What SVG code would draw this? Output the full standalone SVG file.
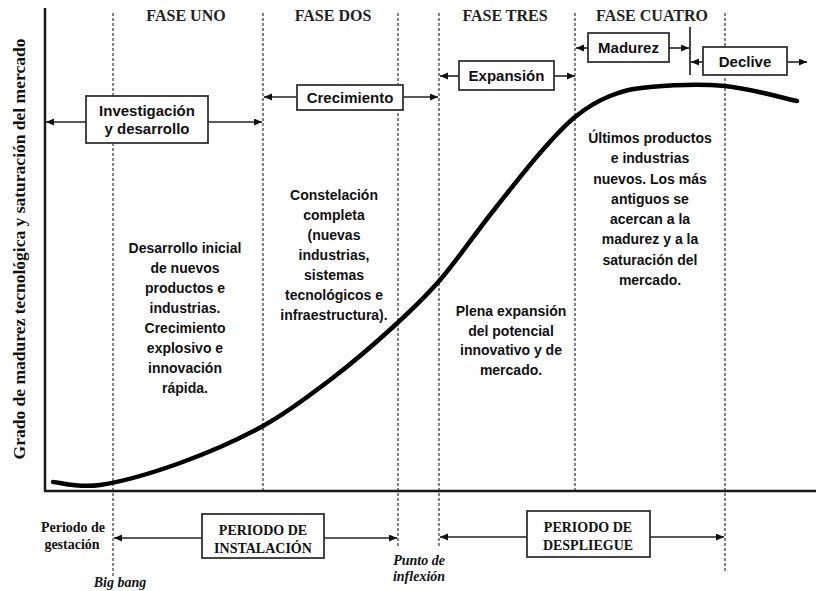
<svg xmlns="http://www.w3.org/2000/svg" width="816" height="591" viewBox="0 0 816 591">
<style>
.bg{fill:#ffffff}
.axis{stroke:#1a1a1a;stroke-width:2.5;fill:none}
.dash{stroke:#333333;stroke-width:1.2;stroke-dasharray:3 2;fill:none}
.curve{stroke:#000000;stroke-width:4.5;fill:none;stroke-linecap:round;stroke-linejoin:round}
.box{fill:#ffffff;stroke:#333333;stroke-width:1.8}
.conn{stroke:#222222;stroke-width:1.6;fill:none;marker-end:url(#ah)}
.sep{stroke:#333333;stroke-width:1.8}
.lbl{font-family:"Liberation Sans",Arial,sans-serif;font-weight:bold;font-size:15px;fill:#111;text-anchor:middle}
.body{font-family:"Liberation Sans",Arial,sans-serif;font-weight:bold;font-size:14px;fill:#111;text-anchor:middle}
.phase{font-family:"Liberation Serif","Times New Roman",serif;font-weight:bold;font-size:16px;fill:#222;text-anchor:middle}
.ser{font-family:"Liberation Serif","Times New Roman",serif;font-weight:bold;font-size:14px;fill:#111;text-anchor:middle}
.ital{font-family:"Liberation Serif","Times New Roman",serif;font-weight:bold;font-style:italic;font-size:14px;fill:#111;text-anchor:middle}
.ylab{font-family:"Liberation Serif","Times New Roman",serif;font-weight:bold;font-size:17.5px;fill:#111;text-anchor:middle}
</style>
<defs>
<marker id="ah" markerUnits="userSpaceOnUse" markerWidth="9" markerHeight="8" refX="8" refY="3.5" orient="auto">
<path d="M0,0 L8,3.5 L0,7 z" fill="#111"/>
</marker>
</defs>
<rect class="bg" x="0" y="0" width="816" height="591"/>

<g id="grid">
<line class="dash" x1="113" y1="13" x2="113" y2="578"/>
<line class="dash" x1="263" y1="13" x2="263" y2="491"/>
<line class="dash" x1="398" y1="13" x2="398" y2="547"/>
<line class="dash" x1="439" y1="13" x2="439" y2="547"/>
<line class="dash" x1="575" y1="13" x2="575" y2="491"/>
<line class="dash" x1="725" y1="13" x2="725" y2="573"/>
</g>

<g id="axes">
<line class="axis" x1="45" y1="8" x2="45" y2="491"/>
<line class="axis" x1="44" y1="491" x2="816" y2="491"/>
<text class="ylab" transform="rotate(-90 25 249)" x="25" y="249">Grado de madurez tecnológica y saturación del mercado</text>
</g>

<g id="phases">
<text class="phase" x="186" y="21">FASE UNO</text>
<text class="phase" x="333" y="21">FASE DOS</text>
<text class="phase" x="505" y="21">FASE TRES</text>
<text class="phase" x="652" y="21">FASE CUATRO</text>
</g>

<g id="curve">
<path class="curve" d="M53,482 C60.8,482.5 78.8,488.2 100,485 C121.2,481.8 152.8,472.8 180,463 C207.2,453.2 238,439.8 263,426 C288,412.2 308.3,396.5 330,380 C351.7,363.5 374.7,343.7 393,327 C411.3,310.3 423.8,298.7 440,280 C456.2,261.3 473.3,236.2 490,215 C506.7,193.8 525.8,169.3 540,153 C554.2,136.7 563.3,126.5 575,117 C586.7,107.5 597.5,101 610,96 C622.5,91 630.8,88.7 650,87 C669.2,85.3 700.5,83.7 725,86 C749.5,88.3 785,98.5 797,101"/>
</g>

<g id="connectors">
<line class="conn" x1="86" y1="122" x2="46" y2="122"/>
<line class="conn" x1="208" y1="122" x2="262" y2="122"/>
<line class="conn" x1="297" y1="97" x2="264" y2="97"/>
<line class="conn" x1="403" y1="97" x2="438" y2="97"/>
<line class="conn" x1="459" y1="76" x2="440" y2="76"/>
<line class="conn" x1="554" y1="76" x2="575" y2="76"/>
<line class="conn" x1="588" y1="48" x2="576" y2="48"/>
<line class="conn" x1="669" y1="48" x2="689" y2="48"/>
<line class="conn" x1="703" y1="62" x2="691" y2="62"/>
<line class="conn" x1="787" y1="62" x2="807" y2="62"/>
<line class="conn" x1="202" y1="538" x2="114" y2="538"/>
<line class="conn" x1="324" y1="538" x2="397" y2="538"/>
<line class="conn" x1="527" y1="537" x2="440" y2="537"/>
<line class="conn" x1="650" y1="537" x2="724" y2="537"/>
<line class="sep" x1="690" y1="27" x2="690" y2="75"/>
</g>

<g id="investigacion">
<rect class="box" x="86" y="96" width="122" height="47"/>
<text class="lbl" x="147" y="116">Investigación</text>
<text class="lbl" x="147" y="134">y desarrollo</text>
</g>
<g id="crecimiento">
<rect class="box" x="297" y="85" width="106" height="25"/>
<text class="lbl" x="350" y="103">Crecimiento</text>
</g>
<g id="expansion">
<rect class="box" x="459" y="61" width="95" height="29"/>
<text class="lbl" x="506.5" y="81">Expansión</text>
</g>
<g id="madurez">
<rect class="box" x="588" y="33" width="81" height="29"/>
<text class="lbl" x="628.5" y="53">Madurez</text>
</g>
<g id="declive">
<rect class="box" x="703" y="47" width="84" height="28"/>
<text class="lbl" x="745" y="67">Declive</text>
</g>

<g id="texto-fase-uno">
<text class="body" x="185" y="253">Desarrollo inicial</text>
<text class="body" x="185" y="273">de nuevos</text>
<text class="body" x="185" y="293">productos e</text>
<text class="body" x="185" y="313">industrias.</text>
<text class="body" x="185" y="333">Crecimiento</text>
<text class="body" x="185" y="353">explosivo e</text>
<text class="body" x="185" y="373">innovación</text>
<text class="body" x="185" y="393">rápida.</text>
</g>
<g id="texto-fase-dos">
<text class="body" x="334" y="200">Constelación</text>
<text class="body" x="334" y="220">completa</text>
<text class="body" x="334" y="240">(nuevas</text>
<text class="body" x="334" y="260">industrias,</text>
<text class="body" x="334" y="280">sistemas</text>
<text class="body" x="334" y="300">tecnológicos e</text>
<text class="body" x="334" y="320">infraestructura).</text>
</g>
<g id="texto-fase-tres">
<text class="body" x="511" y="316">Plena expansión</text>
<text class="body" x="511" y="336">del potencial</text>
<text class="body" x="511" y="355">innovativo y de</text>
<text class="body" x="511" y="375">mercado.</text>
</g>
<g id="texto-fase-cuatro">
<text class="body" x="650" y="143">Últimos productos</text>
<text class="body" x="650" y="163">e industrias</text>
<text class="body" x="650" y="184">nuevos. Los más</text>
<text class="body" x="650" y="204">antiguos se</text>
<text class="body" x="650" y="224">acercan a la</text>
<text class="body" x="650" y="244">madurez y a la</text>
<text class="body" x="650" y="265">saturación del</text>
<text class="body" x="650" y="285">mercado.</text>
</g>

<g id="gestacion">
<text class="ser" x="73" y="532">Periodo de</text>
<text class="ser" x="72" y="549">gestación</text>
</g>
<g id="instalacion">
<rect class="box" x="202" y="514" width="122" height="44"/>
<text class="ser" x="263" y="535">PERIODO DE</text>
<text class="ser" x="263" y="553">INSTALACIÓN</text>
</g>
<g id="despliegue">
<rect class="box" x="527" y="511" width="123" height="46"/>
<text class="ser" x="588" y="532">PERIODO DE</text>
<text class="ser" x="588" y="550">DESPLIEGUE</text>
</g>
<g id="big-bang">
<text class="ital" x="120" y="587">Big bang</text>
</g>
<g id="punto-inflexion">
<text class="ital" x="419" y="565">Punto de</text>
<text class="ital" x="419" y="581">inflexión</text>
</g>
</svg>
